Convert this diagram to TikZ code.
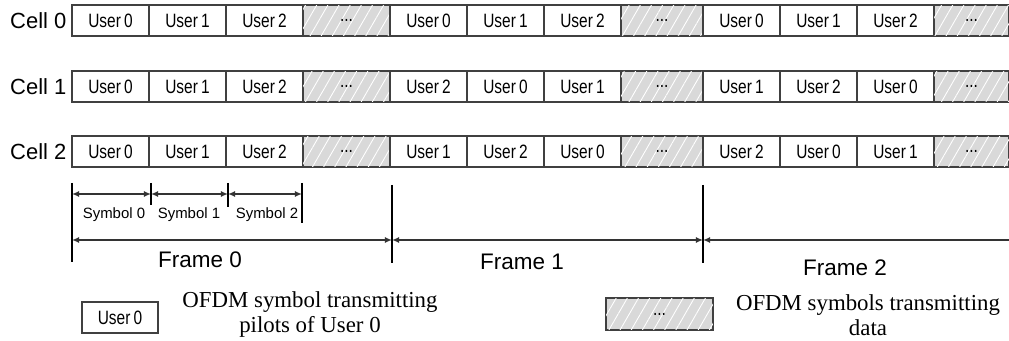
\documentclass[tikz,border=0pt]{standalone}
\usepackage{fontspec}
\setmainfont{Liberation Serif}
\setsansfont{Liberation Sans}
\newfontfamily\narrowsf[FakeStretch=0.8]{Liberation Sans}
\usetikzlibrary{arrows.meta,patterns.meta}

\tikzset{
  slotbox/.style={draw=black!75, line width=0.6pt, minimum height=0.62cm,
    inner sep=0pt, outer sep=0pt, font=\narrowsf\fontsize{11}{13}\selectfont},
  pilotbox/.style={slotbox, fill=white, minimum width=1.54cm},
  databox/.style={slotbox, fill=gray!30,
    postaction={pattern={Lines[angle=60,distance=5.5pt,line width=0.5pt]}, pattern color=white}},
  dimline/.style={line width=0.9pt, draw=black!80, {Latex[length=4pt,width=3.5pt]}-{Latex[length=4pt,width=3.5pt]}},
  dimstart/.style={line width=0.9pt, draw=black!80, {Latex[length=4pt,width=3.5pt]}-},
  endbar/.style={line width=0.6pt},
  celllabel/.style={font=\sffamily\fontsize{12.5}{14}\selectfont, inner sep=3pt},
  framelabel/.style={font=\sffamily\fontsize{12.8}{14}\selectfont},
  symlabel/.style={font=\sffamily\fontsize{8.5}{10}\selectfont},
  legendtext/.style={font=\fontsize{13}{14.5}\selectfont, align=center}
}

\begin{document}
\begin{tikzpicture}[x=0.02cm,y=-0.02cm]
    \useasboundingbox (0,0) rectangle (1009,341);

    % cells: pilot symbols of the users, then data
    \foreach \r/\yc in {0/20.5,1/86.5,2/151.5}{
      \foreach \fx/\dw [count=\f from 0] in {72/87,390/82,703/75}{
        \foreach \s in {0,1,2}{
          \pgfmathtruncatemacro{\u}{mod(\s-\r*\f+9,3)}
          \node [pilotbox, anchor=west] (c\r-\f-\s) at (\fx+77*\s,\yc) {User\,\u};
        }
        \node [databox, anchor=west, minimum width=\dw*0.02cm] (d\r-\f) at (\fx+231,\yc) {...};
      }
      \node [celllabel, anchor=east] (cell\r) at (c\r-0-0.west) {Cell \r};
    }

    % symbol lengths
    \coordinate (s0) at (72,194);
    \coordinate (s1) at (151,194);
    \coordinate (s2) at (228,194);
    \coordinate (s3) at (302,194);
    \draw [dimline] (s0) -- (s1);
    \draw [dimline] (s1) -- (s2);
    \draw [dimline] (s2) -- (s3);
    \draw [endbar] (151,183) -- (151,205);
    \draw [endbar] (228,183) -- (228,207);
    \draw [endbar] (302,183) -- (302,223);
    \node [symlabel] (sym0) at (114,215) {Symbol 0};
    \node [symlabel] (sym1) at (189,215) {Symbol 1};
    \node [symlabel] (sym2) at (267,215) {Symbol 2};

    % frame lengths
    \coordinate (f0) at (72,240);
    \coordinate (f1) at (392,240);
    \coordinate (f2) at (703,240);
    \coordinate (f3) at (1009,240);
    \draw [dimline] (f0) -- (f1);
    \draw [dimline] (f1) -- (f2);
    \draw [dimstart] (f2) -- (f3);
    \draw [endbar] (72,183) -- (72,262);
    \draw [endbar] (392,185) -- (392,263);
    \draw [endbar] (703,185) -- (703,263);
    \node [framelabel] (frm0) at (200,260) {Frame 0};
    \node [framelabel] (frm1) at (522,262) {Frame 1};
    \node [framelabel] (frm2) at (845,268) {Frame 2};

    % legend
    \node [slotbox, minimum width=1.52cm] (keypilot) at (120,317.5) {User\,0};
    \node [legendtext] (keypilottext) at (310,314.5) {OFDM symbol transmitting\\pilots of User 0};
    \node [databox, minimum width=2.14cm, minimum height=0.64cm] (keydata) at (659.5,314) {...};
    \node [legendtext] (keydatatext) at (868,315) {OFDM symbols transmitting\\data};
\end{tikzpicture}
\end{document}
